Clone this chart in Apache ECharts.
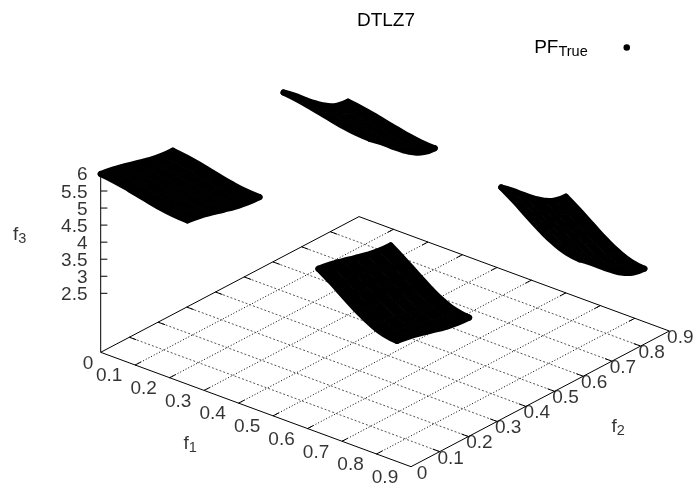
<!DOCTYPE html>
<html><head><meta charset="utf-8">
<style>html,body{margin:0;padding:0;background:#fff}#c{width:695px;height:483px}</style>
<script src="https://cdn.jsdelivr.net/npm/echarts@6/dist/echarts.min.js"></script>
</head><body><div id="c"></div>
<script>
// Data
const f1Ticks = [0, 0.1, 0.2, 0.3, 0.4, 0.5, 0.6, 0.7, 0.8, 0.9];
const f2Ticks = [0, 0.1, 0.2, 0.3, 0.4, 0.5, 0.6, 0.7, 0.8, 0.9];
const f3Ticks = [2.5, 3, 3.5, 4, 4.5, 5, 5.5, 6];
const lowNodes = [0, 0.042, 0.084, 0.126, 0.168, 0.21, 0.2514];
const highNodes = [0.6316, 0.6696, 0.7076, 0.7455, 0.7835, 0.8215, 0.8594];
const highNodesF2 = [0.637, 0.675, 0.712, 0.75, 0.787, 0.824, 0.862];
const patchLowLow = [
 [6.000,5.942,5.856,5.757,5.664,5.597,5.573],
 [5.942,5.884,5.798,5.699,5.606,5.539,5.515],
 [5.856,5.798,5.712,5.613,5.520,5.453,5.429],
 [5.757,5.699,5.613,5.514,5.421,5.354,5.330],
 [5.664,5.606,5.520,5.421,5.328,5.261,5.237],
 [5.597,5.539,5.453,5.354,5.261,5.194,5.170],
 [5.573,5.515,5.429,5.330,5.237,5.170,5.146]];
const patchLowHigh = [
 [5.573,5.312,5.026,4.750,4.518,4.362,4.307],
 [5.515,5.254,4.968,4.692,4.460,4.304,4.249],
 [5.429,5.168,4.882,4.606,4.374,4.218,4.163],
 [5.330,5.069,4.783,4.507,4.275,4.119,4.064],
 [5.237,4.976,4.690,4.414,4.182,4.026,3.971],
 [5.170,4.909,4.623,4.347,4.115,3.959,3.904],
 [5.146,4.885,4.599,4.323,4.091,3.935,3.880]];
const patchHighLow = [
 [5.573,5.515,5.429,5.330,5.237,5.170,5.146],
 [5.312,5.254,5.168,5.069,4.976,4.909,4.885],
 [5.026,4.968,4.882,4.783,4.690,4.623,4.599],
 [4.750,4.692,4.606,4.507,4.414,4.347,4.323],
 [4.518,4.460,4.374,4.275,4.182,4.115,4.091],
 [4.362,4.304,4.218,4.119,4.026,3.959,3.935],
 [4.307,4.249,4.163,4.064,3.971,3.904,3.880]];
const patchHighHigh = [
 [5.146,4.885,4.599,4.323,4.091,3.935,3.880],
 [4.885,4.624,4.338,4.062,3.830,3.674,3.619],
 [4.599,4.338,4.052,3.776,3.544,3.388,3.333],
 [4.323,4.062,3.776,3.500,3.268,3.112,3.057],
 [4.091,3.830,3.544,3.268,3.036,2.880,2.825],
 [3.935,3.674,3.388,3.112,2.880,2.724,2.669],
 [3.880,3.619,3.333,3.057,2.825,2.669,2.614]];

// View projection
const F = 'Liberation Sans, Arial, sans-serif', FS = 19, SUB = 14.5;
const Z0 = 0.77, MAX = 0.9;
function project(f1, f2, f3) {
  return [100.7 + f1 / MAX * 310.3 + f2 / MAX * 258.3,
          352.3 + f1 / MAX * 114.4 - f2 / MAX * 135.7 - 34.1 * (f3 - Z0)];
}
const seg = (arr, a, b) => { arr.push(a, b, null); };
const border = [], ticks = [], gridA = [], gridB = [];
[[0,0,MAX,0],[MAX,0,MAX,MAX],[0,0,0,MAX],[0,MAX,MAX,MAX]].forEach(e =>
  seg(border, project(e[0],e[1],Z0), project(e[2],e[3],Z0)));
seg(border, project(0,0,Z0), project(0,0,6));
f1Ticks.slice(1,-1).forEach(t => {
  seg(gridA, project(t,0,Z0), project(t,MAX,Z0));
  seg(ticks, project(t,0,Z0), project(t,0.02,Z0));
  seg(ticks, project(t,MAX,Z0), project(t,MAX-0.02,Z0));
});
f2Ticks.slice(1,-1).forEach(t => {
  seg(gridB, project(0,t,Z0), project(MAX,t,Z0));
  seg(ticks, project(0,t,Z0), project(0.02,t,Z0));
  seg(ticks, project(MAX,t,Z0), project(MAX-0.02,t,Z0));
});
f3Ticks.forEach(z => {
  const p = project(0,0,z);
  seg(ticks, p, [p[0]+6.7, p[1]]);
});

// Surface cells and boundary runs of the front
const cells = [], edges = [];
[[lowNodes,lowNodes,patchLowLow],[lowNodes,highNodesF2,patchLowHigh],
 [highNodes,lowNodes,patchHighLow],[highNodes,highNodesF2,patchHighHigh]].forEach(([a,b,m]) => {
  const n = a.length;
  for (let i = 0; i < n-1; i++) for (let j = 0; j < n-1; j++) {
    cells.push([a[i],b[j],m[i][j], a[i+1],b[j],m[i+1][j], a[i+1],b[j+1],m[i+1][j+1], a[i],b[j+1],m[i][j+1]]);
  }
  [0,n-1].forEach(i => { const r=[]; for (let j=0;j<n;j++) r.push(a[i],b[j],m[i][j]); edges.push(r); });
  [0,n-1].forEach(j => { const r=[]; for (let i=0;i<n;i++) r.push(a[i],b[j],m[i][j]); edges.push(r); });
});

// Labels
const labels = [];
f1Ticks.forEach(t => { const p = project(t,0,Z0);
  labels.push({value:[p[0],p[1],String(t)], label:{offset: t===0?[-12.7,11.7]:[-26,11]}}); });
f2Ticks.forEach(t => { const p = project(MAX,t,Z0);
  labels.push({value:[p[0],p[1],String(t)], label:{offset:[11,6.7]}}); });
f3Ticks.forEach(z => { const p = project(0,0,z);
  labels.push({value:[p[0],p[1],String(z)], label:{align:'right',offset:[-13.2,1.3]}}); });
const rich = {a:{fontFamily:F,fontSize:FS,color:'#000'},b:{fontFamily:F,fontSize:SUB,color:'#000',verticalAlign:'bottom',padding:[8,0,0,0]}};
const titlePts = [[0.45,0,Z0,'{a|f}{b|1}',[-65.8,34.5]],[MAX,0.45,Z0,'{a|f}{b|2}',[78,28]],[0,0,5,'{a|f}{b|3}',[-81,27]]]
 .map(r => { const p = project(r[0],r[1],r[2]); return {value:[p[0],p[1],r[3]],label:{offset:r[4],rich}}; });

const lineSeries = (data, style) => ({type:'line',data,symbol:'none',silent:true,animation:false,connectNulls:false,
  lineStyle:Object.assign({color:'#000',width:1},style),z:2});
const chart = echarts.init(document.getElementById('c'),null,{renderer:'canvas'});
chart.setOption({
  animation:false, backgroundColor:'#fff',
  title:{text:'DTLZ7',left:381,top:6,textAlign:'center',textStyle:{fontFamily:F,fontSize:FS,fontWeight:'normal',color:'#000'}},
  legend:{show:true,right:60,top:33,orient:'horizontal',align:'right',selectedMode:false,itemWidth:68,itemHeight:6.5,
    data:[{name:'PF_True',icon:'circle'}],
    formatter:()=>'{a|PF}{b|True}',
    textStyle:{rich}},
  grid:{left:0,right:0,top:0,bottom:0},
  xAxis:{type:'value',min:0,max:695,show:false},
  yAxis:{type:'value',min:0,max:483,inverse:true,show:false},
  series:[
    lineSeries(gridA,{type:[1,2]}),
    lineSeries(gridB,{type:[2,2],color:'#555'}),
    lineSeries(border,{}),
    lineSeries(ticks,{}),
    {type:'custom',name:'PF_True',coordinateSystem:'cartesian2d',data:cells,z:5,itemStyle:{color:'#000'},
     encode:{x:0,y:1},
     renderItem:(params,api)=>{
       const pts=[0,3,6,9].map(k=>api.coord(project(api.value(k),api.value(k+1),api.value(k+2))));
       return {type:'polygon',shape:{points:pts},style:{fill:'#000',stroke:'#000',lineWidth:1}};
     }},
    {type:'custom',coordinateSystem:'cartesian2d',data:edges,z:5,silent:true,
     encode:{x:0,y:1},
     renderItem:(params,api)=>{
       const pts=[]; for(let k=0;k<7;k++) pts.push(api.coord(project(api.value(3*k),api.value(3*k+1),api.value(3*k+2))));
       return {type:'polyline',shape:{points:pts,smooth:0.5},style:{fill:null,stroke:'#000',lineWidth:6,lineCap:'round',lineJoin:'round'}};
     }},
    {type:'scatter',data:labels,symbolSize:0,silent:true,z:6,
     label:{show:true,position:'inside',formatter:p=>p.value[2],fontFamily:F,fontSize:FS,color:'#000'}},
    {type:'scatter',data:titlePts,symbolSize:0,silent:true,z:6,
     label:{show:true,position:'inside',formatter:p=>p.value[2],fontFamily:F,fontSize:FS,color:'#000'}}
  ]
});
</script></body></html>
